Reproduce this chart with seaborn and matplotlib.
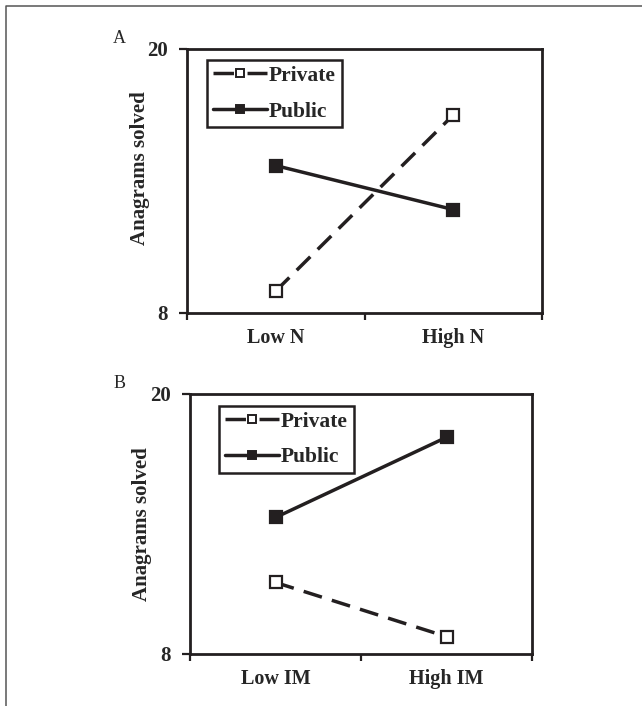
import matplotlib
matplotlib.use("Agg")
import matplotlib.pyplot as plt
import seaborn as sns
from matplotlib.lines import Line2D

# data
groups = ["Private", "Public"]
cats_a = ["Low N", "High N"]
private_a = [9.0, 17.0]
public_a = [14.7, 12.7]
cats_b = ["Low IM", "High IM"]
private_b = [11.3, 8.8]
public_b = [14.3, 18.0]
yticks = [8, 20]

INK = "#231f20"
SERIF = "Liberation Serif"
LW = 2.5

sns.set_theme(style="ticks")
plt.rcParams["font.family"] = [SERIF, "DejaVu Serif"]


def draw_panel(ax, cats, private, public, letter, legend_anchor, ylab_x, ylab_y, letter_xy):
    sns.lineplot(x=cats, y=private, ax=ax, color=INK, lw=LW,
                 linestyle=(0, (5.5, 3)), marker="s", ms=8,
                 mfc="white", mec=INK, mew=1.6)
    sns.lineplot(x=cats, y=public, ax=ax, color=INK, lw=LW,
                 linestyle="-", marker="s", ms=8,
                 mfc=INK, mec=INK, mew=1.6)

    ax.set_xlim(-0.5, 1.5)
    ax.set_ylim(8, 20)
    ax.set_yticks(yticks)
    ax.set_yticklabels([str(t) for t in yticks], fontweight="bold", fontsize=15)
    ax.set_xticks([0, 1])
    ax.set_xticklabels(cats, fontweight="bold", fontsize=14.5)
    ax.tick_params(axis="x", which="major", length=0, pad=11)
    ax.set_xticks([-0.5, 0.5, 1.5], minor=True)
    ax.tick_params(axis="x", which="minor", length=5, width=1.6, color=INK)
    ax.tick_params(axis="y", length=6, width=1.6, color=INK, pad=8)
    for s in ax.spines.values():
        s.set_visible(True)
        s.set_linewidth(2)
        s.set_color(INK)

    ax.set_xlabel("")
    ax.set_ylabel("Anagrams solved", fontweight="bold", fontsize=15)
    ax.yaxis.set_label_coords(ylab_x, ylab_y)

    # legend handles drawn like the original: dash - box - dash
    h_priv = Line2D([], [], color=INK, lw=LW, linestyle=(0, (5.9, 3.9, 5.9, 10)),
                    marker="s", ms=6, mfc="white", mec=INK, mew=1.4)
    h_pub = Line2D([], [], color=INK, lw=LW, linestyle="-",
                   marker="s", ms=6, mfc=INK, mec=INK, mew=1.4)
    leg = ax.legend([h_priv, h_pub], groups, loc="upper left", bbox_to_anchor=legend_anchor,
                    borderaxespad=0, borderpad=0.27, handlelength=2.53, handletextpad=0.08,
                    labelspacing=0.72, fancybox=False, framealpha=1,
                    edgecolor=INK, prop={"family": SERIF, "weight": "bold", "size": 15.5})
    leg.get_frame().set_linewidth(1.8)

    ax.text(letter_xy[0], letter_xy[1], letter, transform=ax.transAxes, fontsize=13,
            ha="center", va="center", family=SERIF)


fig = plt.figure(figsize=(6.42, 7.06), dpi=100)
ax_a = fig.add_axes([0.2913, 0.5567, 0.5530, 0.3739])
ax_b = fig.add_axes([0.2960, 0.0737, 0.5327, 0.3683])

draw_panel(ax_a, cats_a, private_a, public_a, "A", (0.056, 0.958), -0.105, 0.55, (-0.19, 1.038))
draw_panel(ax_b, cats_b, private_b, public_b, "B", (0.085, 0.954), -0.112, 0.5, (-0.205, 1.042))

# outer frame (only left and top edges fall inside the image)
fx = 6 / 642
fy = 1 - 6 / 706
fig.add_artist(Line2D([fx, fx, 1.0], [0.0, fy, fy], transform=fig.transFigure,
                      color="#555555", lw=1.1))

fig.savefig("out.png", dpi=100)
